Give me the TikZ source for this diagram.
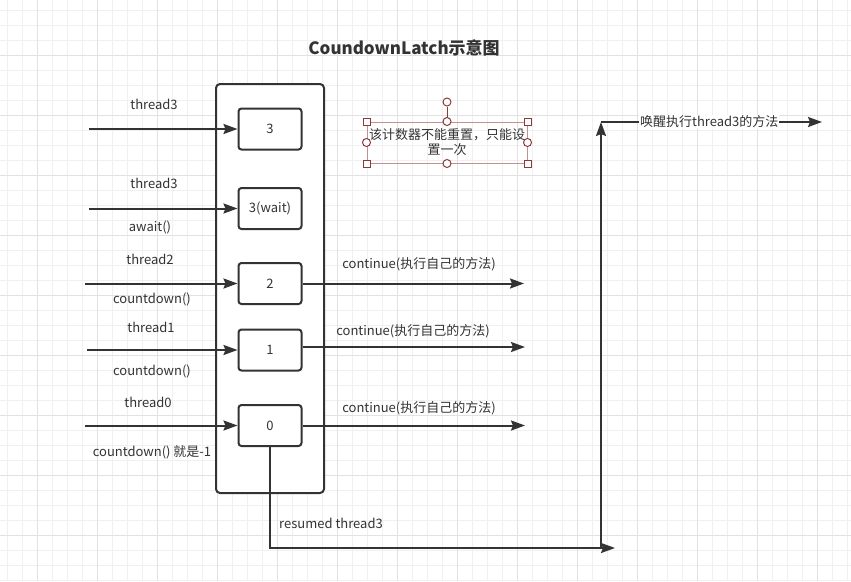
\documentclass[tikz,border=0pt]{standalone}
\usepackage{fontspec}
\setmainfont{Noto Sans CJK SC}
\usetikzlibrary{arrows.meta}
\definecolor{ink}{HTML}{333333}
\definecolor{gridminor}{HTML}{F0F0F0}
\definecolor{gridmajor}{HTML}{E2E2E2}
\definecolor{selline}{HTML}{C49090}
\definecolor{handle}{HTML}{8B3A3A}
\begin{document}
\begin{tikzpicture}[x=1pt,y=-1pt,
  box/.style={draw=ink,line width=2pt,rounded corners=3pt,fill=white,text=ink,
    minimum width=63pt,minimum height=41pt,inner sep=0pt,font=\fontsize{13}{15}\selectfont},
  lbl/.style={text=ink,inner sep=1pt,font=\fontsize{13}{15}\selectfont},
  arr/.style={draw=ink,line width=2pt,-{Stealth[length=14pt,width=10pt,inset=2pt]}},
  ln/.style={draw=ink,line width=2pt},
  sq/.style={draw=handle,fill=white,line width=1pt,minimum size=7pt,inner sep=0pt},
  ci/.style={draw=handle,fill=white,line width=1pt,circle,minimum size=8pt,inner sep=0pt}]
\useasboundingbox (0,0) rectangle (851,581);
\fill[white] (0,0) rectangle (851,581);
% grid
\foreach \x in {7,22,...,847} \draw[gridminor,line width=1pt] (\x,0) -- (\x,581);
\foreach \y in {10,25,...,580} \draw[gridminor,line width=1pt] (0,\y) -- (851,\y);
\foreach \x in {37,97,...,817} \draw[gridmajor,line width=1pt] (\x,0) -- (\x,581);
\foreach \y in {55,115,...,535} \draw[gridmajor,line width=1pt] (0,\y) -- (851,\y);

% title
\node[text=ink,font=\fontsize{17}{20}\selectfont\bfseries] (title) at (404,48) {CoundownLatch示意图};

% latch container
\node[draw=ink,line width=2pt,rounded corners=4pt,fill=white,minimum width=108pt,minimum height=409pt] (latch) at (270,288.5) {};

% inner boxes
\node[box] (b3) at (270,129) {3};
\node[box] (bw) at (270,208.5) {3(wait)};
\node[box] (b2) at (270,283.5) {2};
\node[box] (b1) at (270,350) {1};
\node[box] (b0) at (270,425.5) {0};

% incoming arrows
\coordinate (s3) at (89,129);
\coordinate (sw) at (89,208.5);
\coordinate (s2) at (85,283.5);
\coordinate (s1) at (87,350);
\coordinate (s0) at (85,425.5);
\draw[arr] (s3) -- (b3);
\draw[arr] (sw) -- (bw);
\draw[arr] (s2) -- (b2);
\draw[arr] (s1) -- (b1);
\draw[arr] (s0) -- (b0);

\node[lbl] (l3) at (154,104) {thread3};
\node[lbl] (lw) at (154,183) {thread3};
\node[lbl] (lwa) at (150,227) {await()};
\node[lbl] (l2) at (150,259) {thread2};
\node[lbl] (l2c) at (152,299) {countdown()};
\node[lbl] (l1) at (151,327) {thread1};
\node[lbl] (l1c) at (152,371) {countdown()};
\node[lbl] (l0) at (148,402) {thread0};
\node[lbl] (l0c) at (152,452) {countdown() 就是-1};

% outgoing arrows
\coordinate (e2) at (524,283.5);
\coordinate (e1) at (525,347);
\coordinate (e0) at (525,425.5);
\draw[arr] (b2) -- (e2);
\draw[arr] ([yshift=3pt]b1.east) -- (e1);
\draw[arr] (b0) -- (e0);
\node[lbl] (c2) at (419,264) {continue(执行自己的方法)};
\node[lbl] (c1) at (413,331) {continue(执行自己的方法)};
\node[lbl] (c0) at (419,408) {continue(执行自己的方法)};

% resume path
\coordinate (bend) at (615,548);
\coordinate (vstart) at (601,548);
\coordinate (vtop) at (601,122);
\coordinate (hend) at (822,122);
\draw[arr] (b0.south) |- (bend);
\node[lbl] (res) at (331,523) {resumed thread3};
\draw[arr] (vstart) -- (vtop);
\draw[arr] (vtop) -- node[lbl,fill=white,pos=0.49] (wake) {唤醒执行thread3的方法} (hend);

% selected note
\node[draw=selline,line width=1pt,minimum width=160pt,minimum height=41pt,inner sep=0pt,
  text=ink,align=center,font=\fontsize{13}{15}\selectfont] (note) at (447,142.5)
  {该计数器不能重置，只能设\\置一次};
\node[ci] (rot) at (447,102) {};
\draw[handle,line width=1pt] (rot) -- (note.north);
\node[sq] (h1) at (note.north west) {};
\node[sq] (h2) at (note.north east) {};
\node[sq] (h3) at (note.south west) {};
\node[sq] (h4) at (note.south east) {};
\node[ci] (h5) at (note.north) {};
\node[ci] (h6) at (note.south) {};
\node[ci] (h7) at (note.west) {};
\node[ci] (h8) at (note.east) {};
\end{tikzpicture}
\end{document}
